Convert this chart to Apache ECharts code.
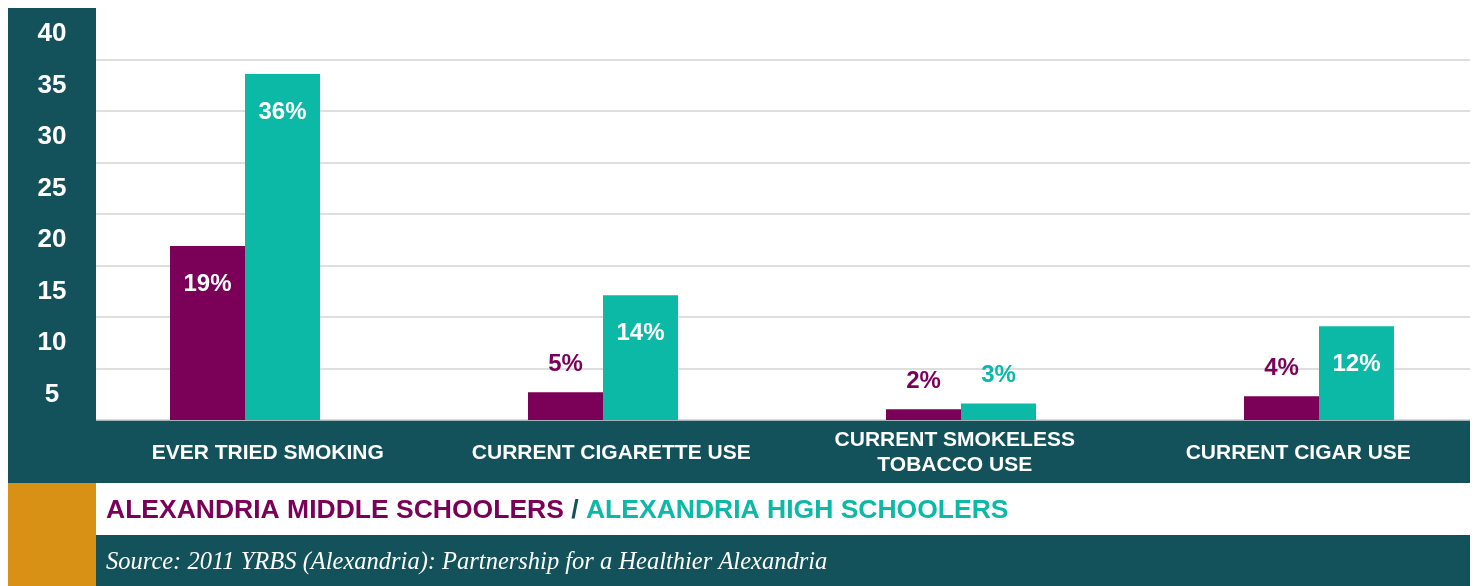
<!DOCTYPE html>
<html>
<head>
<meta charset="utf-8">
<script src="https://cdn.jsdelivr.net/npm/echarts@6/dist/echarts.min.js"></script>
<style>
html,body{margin:0;padding:0;background:#fff;}
#chart{width:1477px;height:586px;}
</style>
</head>
<body>
<div id="chart"></div>
<script>
var categories = ['EVER TRIED SMOKING', 'CURRENT CIGARETTE USE', 'CURRENT SMOKELESS\nTOBACCO USE', 'CURRENT CIGAR USE'];
var middleBars = [16.9, 2.7, 1.05, 2.3];
var highBars = [33.6, 12.1, 1.6, 9.1];
var middleLabels = ['19%', '5%', '2%', '4%'];
var highLabels = ['36%', '14%', '3%', '12%'];
var yMin = 0, yMax = 40, yStep = 5;
var middleName = 'ALEXANDRIA MIDDLE SCHOOLERS';
var highName = 'ALEXANDRIA HIGH SCHOOLERS';
var sourceText = 'Source: 2011 YRBS (Alexandria): Partnership for a Healthier Alexandria';

var DARK = '#13525a', PURPLE = '#7b0057', TEAL = '#0cb8a6', ORANGE = '#d99115';
var SANS = '"Liberation Sans", Arial, Helvetica, sans-serif';

function makeData(values, labels, color) {
  return values.map(function (v, i) {
    var inside = v > 5;
    return {
      value: v,
      label: inside ? {
        show: true, position: 'insideTop', distance: 26, color: '#fff',
        formatter: labels[i]
      } : {
        show: true, position: 'top', distance: 16, color: color,
        formatter: labels[i]
      }
    };
  });
}

var chart = echarts.init(document.getElementById('chart'), null, {renderer: 'canvas'});
chart.setOption({
  animation: false,
  backgroundColor: '#fff',
  grid: [
    {left: 96, right: 7, top: 8, height: 412},
    {left: 245, right: 158, top: 8, height: 412}
  ],
  xAxis: [
    {
      type: 'category', gridIndex: 0, data: categories,
      axisLine: {show: false}, axisTick: {show: false},
      axisLabel: {
        color: '#fff', fontFamily: SANS, fontWeight: 'bold', fontSize: 21,
        lineHeight: 25, verticalAlign: 'middle', margin: 33, interval: 0
      }
    },
    {
      type: 'category', gridIndex: 1, data: categories, boundaryGap: false,
      show: false
    }
  ],
  yAxis: [
    {
      type: 'value', gridIndex: 0, min: yMin, max: yMax, interval: yStep,
      axisLine: {show: false}, axisTick: {show: false},
      splitLine: {show: true, showMaxLine: false, lineStyle: {color: '#d3d3d6', width: 1.5}},
      axisLabel: {
        color: '#fff', fontFamily: SANS, fontWeight: 'bold', fontSize: 26,
        align: 'center', margin: 44, verticalAlign: 'top', lineHeight: 26,
        padding: [13, 0, 0, 0],
        formatter: function (v) { return v === 0 ? '' : String(v); }
      }
    },
    {
      type: 'value', gridIndex: 1, min: yMin, max: yMax, interval: yStep, show: false,
      splitLine: {show: false}
    }
  ],
  graphic: [
    {type: 'rect', z: -10, shape: {x: 8, y: 8, width: 88, height: 475}, style: {fill: DARK}},
    {type: 'rect', z: -10, shape: {x: 8, y: 420, width: 1462, height: 63}, style: {fill: DARK}},
    {type: 'rect', z: -10, shape: {x: 8, y: 483, width: 88, height: 103}, style: {fill: ORANGE}},
    {type: 'rect', z: -10, shape: {x: 96, y: 535, width: 1374, height: 51}, style: {fill: DARK}},
    {
      type: 'text', left: 106, top: 497, z: 10,
      style: {
        text: '{m|' + middleName + '}{s| / }{h|' + highName + '}',
        rich: {
          m: {fill: PURPLE, font: 'bold 26.5px ' + SANS},
          s: {fill: DARK, font: 'bold 26.5px ' + SANS},
          h: {fill: TEAL, font: 'bold 26.5px ' + SANS}
        }
      }
    },
    {
      type: 'text', left: 106, top: 550, z: 10,
      style: {
        text: sourceText, fill: '#fff',
        font: 'italic 24.5px "Liberation Serif", "Times New Roman", serif'
      }
    }
  ],
  series: [
    {
      name: middleName, type: 'bar', xAxisIndex: 1, yAxisIndex: 1,
      barWidth: 75, barGap: 0,
      itemStyle: {color: PURPLE},
      label: {fontFamily: SANS, fontWeight: 'bold', fontSize: 24},
      data: makeData(middleBars, middleLabels, PURPLE)
    },
    {
      name: highName, type: 'bar', xAxisIndex: 1, yAxisIndex: 1,
      barWidth: 75, barGap: 0,
      itemStyle: {color: TEAL},
      label: {fontFamily: SANS, fontWeight: 'bold', fontSize: 24},
      data: makeData(highBars, highLabels, TEAL)
    }
  ]
});
</script>
</body>
</html>
